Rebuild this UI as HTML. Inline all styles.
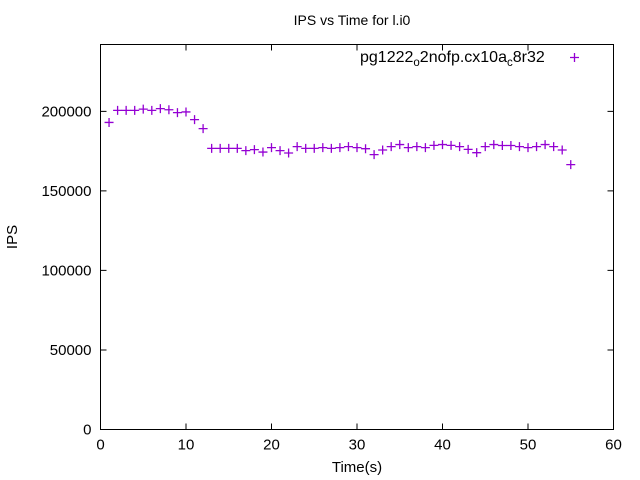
<!DOCTYPE html>
<html><head><meta charset="utf-8"><style>
html,body{margin:0;padding:0;background:#fff;}
svg{display:block;font-family:"Liberation Sans",sans-serif;}
</style></head><body>
<svg id="chart" width="640" height="480">
<rect x="0" y="0" width="640" height="480" fill="#fff"/>
<text x="352" y="25" text-anchor="middle" font-size="14">IPS vs Time for l.i0</text>
<rect x="100.5" y="44.5" width="513" height="385" fill="none" stroke="#000" stroke-width="1"/>
<g id="xticks"></g>
<g id="yticks"></g>
<text x="357" y="472" text-anchor="middle" font-size="15">Time(s)</text>
<text transform="translate(17,237) rotate(-90)" text-anchor="middle" font-size="15">IPS</text>
<g>
<text x="360" y="62" font-size="16">pg1222<tspan font-size="11.5" dy="4">o</tspan><tspan dy="-4">2nofp.cx10a</tspan><tspan font-size="11.5" dy="4">c</tspan><tspan dy="-4">8r32</tspan></text>
<path d="M570,57.5h9M574.5,53v9" stroke="#9400d3" stroke-width="1.3"/>
</g>
<g id="points"></g>
</svg>
<script>
const times = [1,2,3,4,5,6,7,8,9,10,11,12,13,14,15,16,17,18,19,20,21,22,23,24,25,26,27,28,29,30,31,32,33,34,35,36,37,38,39,40,41,42,43,44,45,46,47,48,49,50,51,52,53,54,55];
const ipsValues = [193000,200600,200600,200600,201400,200600,201700,201000,199200,199600,194800,189100,176700,176700,176700,176700,175300,175900,174400,177200,175300,173800,177800,176700,176700,177200,176700,177200,177800,177200,176500,172800,175700,177800,179100,177200,177800,177200,178600,179100,178600,177800,176100,174000,177800,179100,178500,178500,177800,177200,177800,179100,177800,175700,166500];
const xTickVals = [0,10,20,30,40,50,60];
const yTickVals = [0,50000,100000,150000,200000];
const NS="http://www.w3.org/2000/svg";
const X0=100.5,X1=613.5,Y0=429.5,Y1=44.5;
function xs(v){return X0+(v-0)/(60-0)*(X1-X0);}
function ys(v){return Y0-(v/242000)*(Y0-Y1);}
function mk(tag,attrs,parent){const e=document.createElementNS(NS,tag);for(const k in attrs)e.setAttribute(k,attrs[k]);parent.appendChild(e);return e;}
const xg=document.getElementById('xticks'),yg=document.getElementById('yticks'),pg=document.getElementById('points');
xTickVals.forEach(v=>{
  const x=xs(v);
  const t=mk('path',{d:`M${x},${Y0}v-6M${x},${Y1}v6`,stroke:'#000'},xg);
  
  
  const l=mk('text',{x:x,y:Y0+20,'text-anchor':'middle','font-size':'15'},xg);
  l.textContent=v;
  
  
});
yTickVals.forEach(v=>{
  const y=ys(v);
  const t=mk('path',{d:`M${X0},${y}h6M${X1},${y}h-6`,stroke:'#000'},yg);
  
  
  const l=mk('text',{x:X0-9,y:y+5,'text-anchor':'end','font-size':'15'},yg);
  l.textContent=v;
  
  
});
times.forEach((t,i)=>{
  const x=xs(t),y=ys(ipsValues[i]);
  const p=mk('path',{d:`M${x-4.5},${y}h9M${x},${y-4.5}v9`,stroke:'#9400d3','stroke-width':'1.3'},pg);
  
  
});
</script>
</body></html>
